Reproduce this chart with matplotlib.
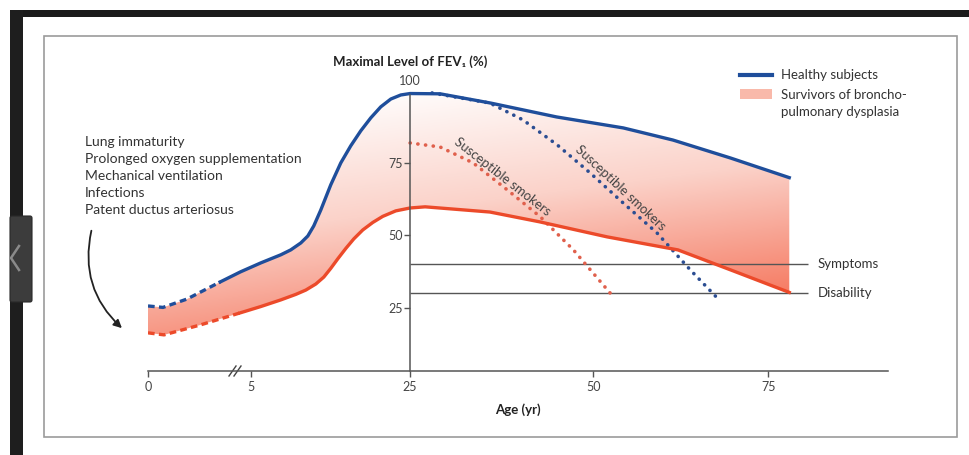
import numpy as np
import matplotlib.pyplot as plt
from matplotlib.colors import LinearSegmentedColormap
from matplotlib.patches import Rectangle, FancyBboxPatch

plt.rcParams['font.family'] = ['Lato', 'DejaVu Sans']

# FEV1 (% of maximal) against age (yr)
healthy_age = [0, 0.73, 1.9, 3.51, 4.5, 6.26, 8.77, 10.02, 11.28, 12.16, 12.91, 13.79,
               15.04, 16.3, 17.55, 18.81, 20.07, 21.32, 22.58, 23.83, 25, 29.1,
               36, 45, 54.3, 61.4, 69.6, 78]
healthy_fev = [25.6, 25.1, 28.0, 33.9, 37.4, 40.5, 43.3, 45.0, 47.4, 49.8, 53.3, 58.8,
               67.5, 75.1, 81.0, 86.2, 90.7, 94.5, 97.2, 98.6, 99.1, 99.0,
               95.8, 91, 87.2, 83, 76.8, 70]
bpd_age = [0, 0.78, 2.53, 4.48, 6.26, 8.77, 10.65, 11.91, 13.17, 14.17, 15.04, 15.92,
           16.93, 17.93, 19.06, 20.32, 21.57, 23.2, 25, 27.05, 35.9, 42.7, 52, 62.1,
           69.6, 78]
bpd_fev = [16.3, 15.6, 19.0, 23.2, 25.4, 27.7, 29.6, 31.1, 33.2, 35.6, 38.6, 41.9,
           45.5, 48.8, 51.9, 54.5, 56.6, 58.5, 59.5, 59.9, 58.1, 54.7, 49.5, 45,
           38.1, 30.3]

healthy_smoker_age = [28, 35.9, 40.4, 45.1, 49.6, 54.3, 59.1, 63.9, 67.7]
healthy_smoker_fev = [99.3, 95.8, 90, 81.3, 71.6, 61.2, 50.9, 38, 28.4]
bpd_smoker_age = [25, 29.1, 33.6, 38.3, 42.8, 47.3, 52.9]
bpd_smoker_fev = [82, 80.6, 75.1, 65.7, 56.4, 45, 28.7]

levels = [40, 30]
level_names = ['Symptoms', 'Disability']
x_ticks = [0, 5, 25, 50, 75]
y_ticks = [25, 50, 75]
risk_factors = ['Lung immaturity', 'Prolonged oxygen supplementation',
                'Mechanical ventilation', 'Infections', 'Patent ductus arteriosus']

blue = '#1f4e9b'
red = '#ec4a2a'
txt = '#333333'

# broken age axis: early years are stretched
age_knots = [0, 5, 25, 50, 75, 100]
pos_knots = [0, 102.7, 262, 445, 620, 795]


def fwd(a):
    return np.interp(a, age_knots, pos_knots)


def inv(p):
    return np.interp(p, pos_knots, age_knots)


fig = plt.figure(figsize=(9.7, 4.55), dpi=100)

# background layer in pixel coordinates
bg = fig.add_axes([0, 0, 1, 1])
bg.axis('off')

ax = fig.add_axes([148 / 970, (455 - 371) / 455, 740 / 970, 311 / 455])
ax.patch.set_alpha(0)
ax.set_xscale('function', functions=(fwd, inv))
ax.set_xlim(0, 92.1)
ax.set_ylim(3.1, 110.7)

# gradient band between the two curves
xs = np.linspace(140, 800, 330)
ys = np.linspace(85, 345, 130)
X, Y = np.meshgrid(xs, ys)
u = (X - 148) / 740
w = (380 - Y) / 290
t = np.clip(0.3 * u + 0.9 * (1 - w) - 0.08, 0, 1)
cmap = LinearSegmentedColormap.from_list(
    'bpd', [(0, '#ffffff'), (0.4, '#fbd2c9'), (0.6, '#f8a898'),
            (0.85, '#f6745a'), (1, '#f4603f')])
im = bg.imshow(t, extent=(140, 800, 345, 85), cmap=cmap, vmin=0, vmax=1,
               aspect='auto', interpolation='bilinear')
band = ax.fill(np.r_[healthy_age, bpd_age[::-1]], np.r_[healthy_fev, bpd_fev[::-1]],
               facecolor='none', edgecolor='none')[0]
im.set_clip_path(band)

bg.set_xlim(0, 970)
bg.set_ylim(455, 0)

# thresholds
ax.hlines(levels, 25, 80.7, color='#555555', lw=1)
for lv, name in zip(levels, level_names):
    ax.text(82.1, lv, name, va='center', ha='left', fontsize=9.5, color=txt)

# smokers
ax.plot(healthy_smoker_age, healthy_smoker_fev, color='#2b4d92', lw=2.6,
        ls=(0, (0.05, 2.1)), dash_capstyle='round')
ax.plot(bpd_smoker_age, bpd_smoker_fev, color='#e0604c', lw=2.6,
        ls=(0, (0.05, 2.1)), dash_capstyle='round')
ax.text(37.6, 70.2, 'Susceptible smokers', rotation=-38, ha='center', va='center',
        fontsize=9.5, color='#444444', rotation_mode='anchor')
ax.text(53.9, 66.4, 'Susceptible smokers', rotation=-43, ha='center', va='center',
        fontsize=9.5, color='#444444', rotation_mode='anchor')

# main curves, dashed in early infancy
ha_ = np.array(healthy_age)
hf_ = np.array(healthy_fev)
ba_ = np.array(bpd_age)
bf_ = np.array(bpd_fev)
ax.plot(ha_[ha_ <= 3.51], hf_[ha_ <= 3.51], color=blue, lw=2.4, ls=(0, (2, 1.3)))
ax.plot(ha_[ha_ >= 3.51], hf_[ha_ >= 3.51], color=blue, lw=2.4, solid_joinstyle='round')
ax.plot(ba_[ba_ <= 4.48], bf_[ba_ <= 4.48], color=red, lw=2.4, ls=(0, (2, 1.3)))
ax.plot(ba_[ba_ >= 4.48], bf_[ba_ >= 4.48], color=red, lw=2.4, solid_joinstyle='round')

# axes
for s in ['top', 'right']:
    ax.spines[s].set_visible(False)
ax.spines['left'].set_position(('data', 25))
ax.spines['left'].set_bounds(3.1, 98.5)
for s in ['left', 'bottom']:
    ax.spines[s].set_color('#555555')
    ax.spines[s].set_linewidth(1.1)
ax.set_xticks(x_ticks)
ax.set_xticklabels([str(v) for v in x_ticks])
ax.set_yticks(y_ticks)
ax.set_yticklabels([str(v) for v in y_ticks])
ax.tick_params(axis='both', direction='out', length=4, width=1, colors='#555555',
               labelsize=9, labelcolor='#444444')
ax.tick_params(axis='x', pad=3)
ax.tick_params(axis='y', pad=1)
ax.text(25, 101.5, '100', ha='center', va='bottom', fontsize=9, color='#444444')

# axis break mark
bg.plot([234, 242], [366, 376], color='white', lw=4)
bg.plot([229, 236], [376, 366], color='#444444', lw=1)
bg.plot([234, 241], [376, 366], color='#444444', lw=1)

bg.text(410, 62, 'Maximal Level of FEV\u2081 (%)', ha='center', va='center',
        fontweight='bold', fontsize=9.5, color='#222222')
bg.text(518, 410, 'Age (yr)', ha='center', va='center', fontweight='bold',
        fontsize=9.5, color='#222222')

for i, line in enumerate(risk_factors):
    bg.text(85, 142 + 17 * i, line, ha='left', va='center', fontsize=10, color=txt)
bg.annotate('', xy=(124, 330), xytext=(92, 228),
            arrowprops=dict(arrowstyle='-|>', connectionstyle='arc3,rad=0.3',
                            lw=1.3, color='#222222', mutation_scale=12))

# legend
bg.plot([740, 772], [75, 75], color=blue, lw=3)
bg.add_patch(Rectangle((740, 89), 32, 10, color='#f9b9aa', lw=0))
bg.text(781, 75, 'Healthy subjects', va='center', fontsize=9.5, color=txt)
bg.text(781, 95, 'Survivors of broncho-', va='center', fontsize=9.5, color=txt)
bg.text(781, 112, 'pulmonary dysplasia', va='center', fontsize=9.5, color=txt)

# page chrome around the figure
bg.add_patch(Rectangle((44, 36), 913, 401, fill=False, ec='#9b9b9b', lw=1.2))
bg.add_patch(Rectangle((10, 10), 960, 7, color='#1b1b1b', lw=0))
bg.add_patch(Rectangle((10, 10), 13, 445, color='#1e1e1e', lw=0))
bg.add_patch(FancyBboxPatch((10, 216), 22, 86, boxstyle='round,pad=0,rounding_size=2',
                            fc='#3c3c3c', ec='#2a2a2a', lw=0.8))
bg.plot([19, 11, 19], [246, 258, 270], color='#8a8a8a', lw=1.8)

fig.savefig('out.png', dpi=100)
